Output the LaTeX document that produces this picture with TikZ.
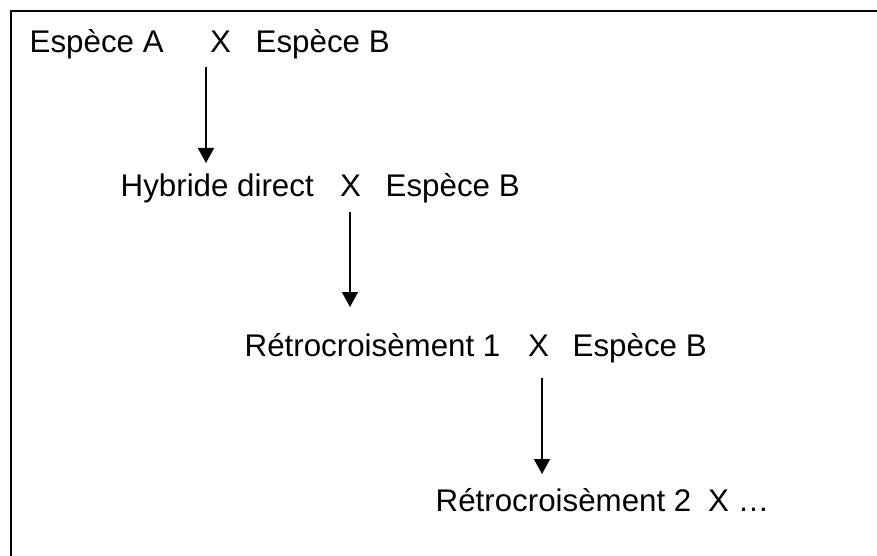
\documentclass[tikz,border=0pt]{standalone}
\usepackage{fontspec}
\setmainfont{Liberation Sans}
\usetikzlibrary{arrows.meta}
\begin{document}
\begin{tikzpicture}[x=1pt,y=1pt,
  lbl/.style={inner sep=0pt,anchor=base west,font=\fontsize{31.3}{38}\selectfont},
  conn/.style={line width=1.4pt,-{Triangle[width=16pt,length=15pt]}},
  frame/.style={line width=1.6pt}]
\useasboundingbox (0,0) rectangle (877,555);
\draw[frame] (11,-10) -- (11,544) -- (890,544);
% line 1
\node[lbl] (a1) at (29.5,502) {Espèce A};
\node[lbl] (x1) at (210,502) {X};
\node[lbl] (b1) at (255.5,502) {Espèce B};
% line 2
\node[lbl] (h2) at (120.5,358) {Hybride direct};
\node[lbl] (x2) at (340,358) {X};
\node[lbl] (b2) at (385.5,358) {Espèce B};
% line 3
\node[lbl] (r3) at (244.5,199) {Rétrocroisèment 1};
\node[lbl] (x3) at (528,199) {X};
\node[lbl] (b3) at (572.5,199) {Espèce B};
% line 4
\node[lbl] (r4) at (435.5,44) {Rétrocroisèment 2};
\node[lbl] (x4) at (708,44) {X …};
% connectors
\coordinate (s1) at (206,488);
\coordinate (e1) at (206,392);
\coordinate (s2) at (350,343);
\coordinate (e2) at (350,248);
\coordinate (s3) at (542,177);
\coordinate (e3) at (542,81);
\draw[conn] (s1) -- (e1);
\draw[conn] (s2) -- (e2);
\draw[conn] (s3) -- (e3);
\end{tikzpicture}
\end{document}
